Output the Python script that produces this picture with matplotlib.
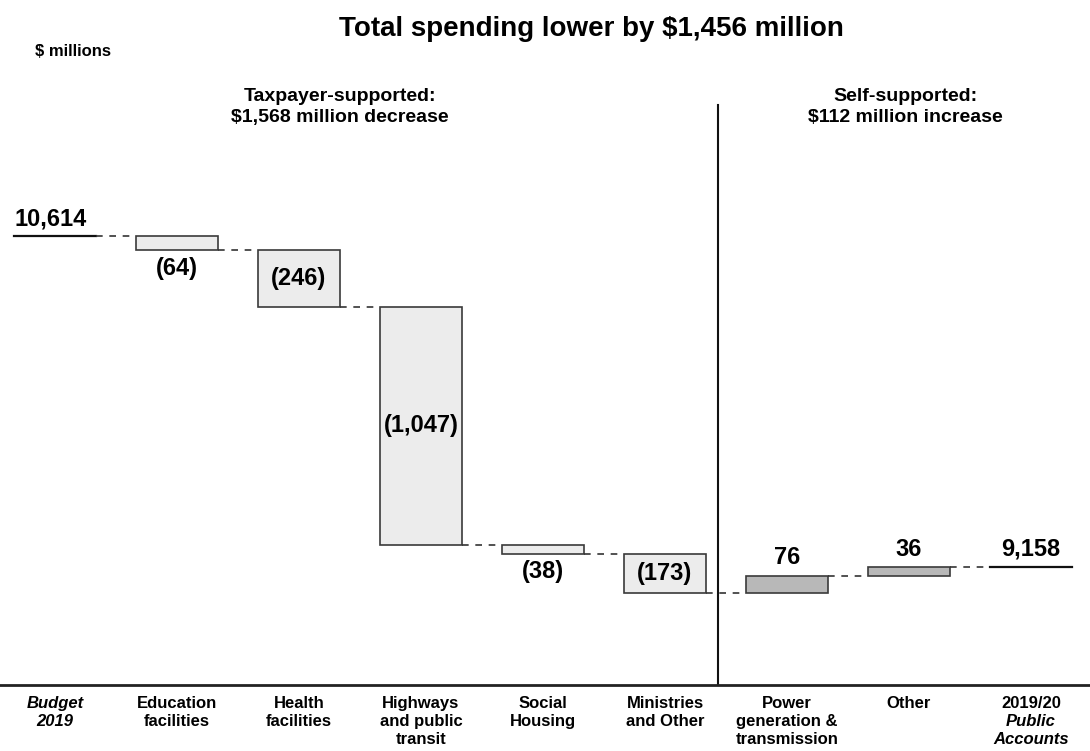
import numpy as np
import matplotlib.pyplot as plt
import matplotlib.transforms as mtransforms

plt.rcParams['font.family'] = ['Liberation Sans', 'DejaVu Sans']
plt.rcParams['font.weight'] = 'bold'

# waterfall inputs ($ millions)
start_value = 10614
end_value = 9158
changes = [-64, -246, -1047, -38, -173, 76, 36]
change_labels = ['(64)', '(246)', '(1,047)', '(38)', '(173)', '76', '36']
label_pos = ['below', 'inside', 'inside', 'below', 'inside', 'above', 'above']
self_supported = [False, False, False, False, False, True, True]

categories = ['Budget\n2019', 'Education\nfacilities', 'Health\nfacilities',
              'Highways\nand public\ntransit', 'Social\nHousing', 'Ministries\nand Other',
              'Power\ngeneration &\ntransmission', 'Other', '2019/20\nPublic\nAccounts']

fig = plt.figure(figsize=(10.9, 7.51), dpi=100)
ax = fig.add_axes([0, 66 / 751, 1, 685 / 751])
ax.set_xlim(-55 / 122, (1090 - 55) / 122)
ax.set_ylim(8642, 11650)
for s in ['top', 'left', 'right']:
    ax.spines[s].set_visible(False)
ax.spines['bottom'].set_linewidth(2)
ax.spines['bottom'].set_color('#222222')
ax.set_xticks([])
ax.set_yticks([])

w = 0.67
half = w / 2
fs_val = 17

# start total line
ax.plot([0 - half, 0 + half], [start_value, start_value], color='#111111', lw=1.6)
ax.text(0 - half, start_value + 25, f'{start_value:,}', ha='left', va='bottom', fontsize=fs_val)

level = start_value
prev_right = 0 + half
for i, (d, lab, pos, ss) in enumerate(zip(changes, change_labels, label_pos, self_supported)):
    x = i + 1
    ax.plot([prev_right, x - half], [level, level], color='#333333', lw=1.2, dashes=(4, 4))
    new_level = level + d
    lo, hi = min(level, new_level), max(level, new_level)
    ax.bar(x, hi - lo, bottom=lo, width=w,
           color='#b8b8b8' if ss else '#ececec', edgecolor='#3a3a3a', linewidth=1.2)
    if pos == 'inside':
        ax.text(x, (lo + hi) / 2, lab, ha='center', va='center', fontsize=fs_val)
    elif pos == 'below':
        ax.text(x, lo - 30, lab, ha='center', va='top', fontsize=fs_val)
    else:
        ax.text(x, hi + 30, lab, ha='center', va='bottom', fontsize=fs_val)
    level = new_level
    prev_right = x + half

# end total line
xe = len(changes) + 1
ax.plot([prev_right, xe - half], [level, level], color='#333333', lw=1.2, dashes=(4, 4))
ax.plot([xe - half, xe + half], [end_value, end_value], color='#111111', lw=1.6)
ax.text(xe, end_value + 30, f'{end_value:,}', ha='center', va='bottom', fontsize=fs_val)

# separator between taxpayer and self-supported
ax.axvline((718 - 55) / 122, ymin=0, ymax=(685 - 105) / 685, color='#111111', lw=1.5)

# category labels under the axis
trans = mtransforms.blended_transform_factory(ax.transData, ax.transAxes)
fs_cat = 12
y0 = -0.016
ls = 1.25
for i, c in enumerate(categories):
    if i == 0:
        ax.text(i, y0, c, transform=trans, ha='center', va='top', fontsize=fs_cat,
                style='italic', linespacing=ls)
    elif i == len(categories) - 1:
        first, rest = c.split('\n', 1)
        ax.text(i, y0, first, transform=trans, ha='center', va='top', fontsize=fs_cat)
        ax.text(i, y0 - 18.5 / 685, rest, transform=trans, ha='center', va='top',
                fontsize=fs_cat, style='italic', linespacing=ls)
    else:
        ax.text(i, y0, c, transform=trans, ha='center', va='top', fontsize=fs_cat,
                linespacing=ls)

fig.text(591 / 1090, 1 - 29 / 751, 'Total spending lower by $1,456 million',
         ha='center', va='center', fontsize=20)
fig.text(35 / 1090, 1 - 51 / 751, '$ millions', ha='left', va='center', fontsize=12)
fig.text(340 / 1090, 1 - 107 / 751, 'Taxpayer-supported:\n$1,568 million decrease',
         ha='center', va='center', fontsize=14, linespacing=1.3)
fig.text(905 / 1090, 1 - 107 / 751, 'Self-supported:\n$112 million increase',
         ha='center', va='center', fontsize=14, linespacing=1.3)

fig.savefig('out.png', dpi=100)
